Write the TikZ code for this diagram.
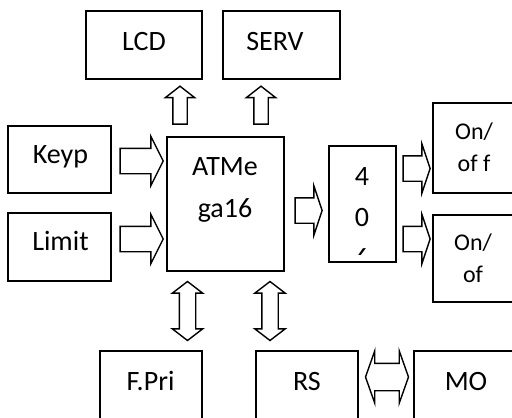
\documentclass[tikz,border=0pt]{standalone}
\usepackage{fontspec}
\setmainfont{Carlito}
\usetikzlibrary{shapes.arrows}
\tikzset{
box/.style={
  draw,
  line width=1.8pt,
  fill=white,
  inner sep=0pt
},
boxtext/.style={
  font=\fontsize{28}{42}\selectfont,
  anchor=base,
  inner sep=0pt,
  align=center
},
smalltext/.style={
  boxtext,
  font=\fontsize{24}{32}\selectfont
},
fatarrow/.style={
  single arrow,
  draw,
  line width=1.4pt,
  inner xsep=0pt,
  inner ysep=12pt,
  single arrow head extend=12pt,
  single arrow tip angle=127
},
thinarrow/.style={
  fatarrow,
  inner ysep=6.5pt,
  single arrow head extend=7.5pt,
  single arrow tip angle=104
},
bothways/.style={
  double arrow,
  draw,
  line width=1.4pt,
  inner xsep=0pt,
  inner ysep=7.5pt,
  double arrow head extend=7pt,
  double arrow tip angle=105
}
}
\begin{document}
\begin{tikzpicture}[x=1pt, y=-1pt]
  \clip (0,0) rectangle (512,418);

  % boxes
  \node[box, minimum width=116, minimum height=68] (lcd) at (144,45) {};
  \node[box, minimum width=117, minimum height=68] (serv) at (281.5,45) {};
  \node[box, minimum width=103, minimum height=67] (keyp) at (59.5,159.5) {};
  \node[box, minimum width=103, minimum height=68] (limit) at (59.5,247) {};
  \node[box, minimum width=117, minimum height=134] (atm) at (225.5,204) {};
  \node[box, minimum width=67, minimum height=116] (ic) at (362.5,204) {};
  \node[box, minimum width=81, minimum height=90] (on1) at (473.5,148) {};
  \node[box, minimum width=81, minimum height=87] (on2) at (473.5,258.5) {};
  \node[box, minimum width=102, minimum height=79] (fpri) at (151,390.5) {};
  \node[box, minimum width=102, minimum height=79] (rs) at (307,390.5) {};
  \node[box, minimum width=102, minimum height=79] (mo) at (465,390.5) {};

  % texts (base = last line)
  \node[boxtext] (lcd-t) at (144,50) {LCD};
  \node[boxtext] (serv-t) at (275,50) {SERV};
  \node[boxtext] (keyp-t) at (60.5,163) {Keyp};
  \node[boxtext] (limit-t) at (60.5,250) {Limit};
  \node[boxtext] (atm-t) at (225,217) {ATMe\\ga16};
  \node[smalltext] (on1-t) at (474,171) {On/\\of f};
  \node[smalltext] (on2-t) at (473,282) {On/\\of};
  \node[boxtext] (fpri-t) at (150.5,390) {F.Pri};
  \node[boxtext] (rs-t) at (307,390) {RS};
  \node[boxtext] (mo-t) at (466,390) {MO};
  \begin{scope}
    \clip (ic.north west) rectangle ([yshift=8pt]ic.south east);
    \node[boxtext, font=\fontsize{28}{41}\selectfont] (ic-t) at (362,267) {4\\0\\6};
  \end{scope}

  % arrows
  \node[thinarrow, minimum height=38, rotate=90] (a-lcd) at (180,108) {};
  \node[thinarrow, minimum height=38, rotate=90] (a-serv) at (261,108) {};
  \node[fatarrow, minimum height=43] (a-keyp) at (138.5,161) {};
  \node[fatarrow, minimum height=43] (a-limit) at (138.5,239) {};
  \node[fatarrow, minimum height=27, single arrow tip angle=143] (a-ic) at (306.5,210.5) {};
  \node[fatarrow, minimum height=27, single arrow tip angle=143] (a-on1) at (414.5,168.5) {};
  \node[fatarrow, minimum height=27, single arrow tip angle=143] (a-on2) at (414.5,239) {};
  \node[bothways, minimum height=59, rotate=90] (a-fpri) at (187.5,311) {};
  \node[bothways, minimum height=59, rotate=90] (a-rs) at (270,311) {};
  \node[bothways, minimum height=43, inner ysep=13pt, double arrow head extend=12.5pt,
        double arrow tip angle=141] (a-mo) at (387,377) {};
\end{tikzpicture}
\end{document}
